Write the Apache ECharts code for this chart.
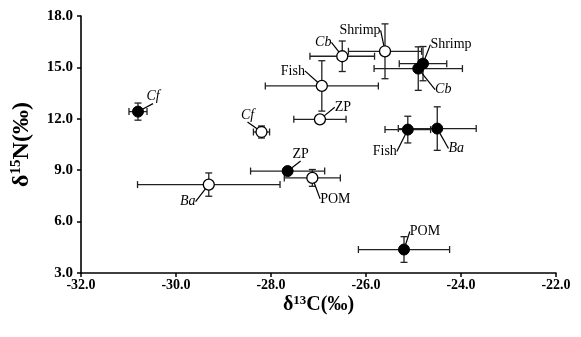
<!DOCTYPE html>
<html>
<head>
<meta charset="utf-8">
<script src="https://cdn.jsdelivr.net/npm/echarts@6/dist/echarts.min.js"></script>
<style>
  html, body { margin: 0; padding: 0; background: #fff; }
  #main { width: 581px; height: 337px; }
</style>
</head>
<body>
<div id="main"></div>
<script>
var chartDom = document.getElementById('main');
var myChart = echarts.init(chartDom);

// filled symbols
var filledNames = ['Cf', 'ZP', 'POM', 'Fish', 'Ba', 'Cb', 'Shrimp'];
var filledC = [-30.80, -27.65, -25.20, -25.12, -24.50, -24.90, -24.80];
var filledN = [12.42, 8.95, 4.37, 11.37, 11.43, 14.93, 15.22];
var filledCErr = [0.19, 0.78, 0.96, 0.48, 0.82, 0.93, 0.50];
var filledNErr = [0.50, 0.15, 0.75, 0.78, 1.27, 1.27, 1.00];

// open symbols
var openNames = ['Cf', 'Ba', 'POM', 'ZP', 'Fish', 'Cb', 'Shrimp'];
var openC = [-28.20, -29.31, -27.13, -26.97, -26.93, -26.50, -25.60];
var openN = [11.23, 8.16, 8.55, 11.97, 13.92, 15.65, 15.94];
var openCErr = [0.17, 1.50, 0.59, 0.55, 1.19, 0.68, 0.77];
var openNErr = [0.35, 0.68, 0.49, 0.15, 1.47, 0.89, 1.60];

// label offsets (px) from the point
var filledOffsets = [[15, -15], [13, -17], [21, -18], [-23, 22], [19, 20], [25, 21], [28, -19]];
var openOffsets = [[-14, -17], [-21, 17], [23, 21], [23, -12], [-29, -15], [-19, -14], [-25, -21]];

var italicNames = ['Cf', 'Cb', 'Ba'];
var serif = '"Liberation Serif", "Times New Roman", serif';

var buildData = function (names, xs, ys, xe, ye) {
  var res = [];
  for (var i = 0; i < names.length; i++) {
    res.push({ name: names[i], value: [xs[i], ys[i], xe[i], ye[i]] });
  }
  return res;
};

var filledData = buildData(filledNames, filledC, filledN, filledCErr, filledNErr);
var openData = buildData(openNames, openC, openN, openCErr, openNErr);

var errorItem = function (params, api) {
  var x = api.value(0), y = api.value(1), xe = api.value(2), ye = api.value(3);
  var l = api.coord([x - xe, y]), r = api.coord([x + xe, y]);
  var t = api.coord([x, y + ye]), b = api.coord([x, y - ye]);
  var c = 3.5;
  var st = { stroke: '#222', lineWidth: 1.3 };
  var seg = function (x1, y1, x2, y2) {
    return { type: 'line', shape: { x1: x1, y1: y1, x2: x2, y2: y2 }, style: st };
  };
  return {
    type: 'group',
    children: [
      seg(l[0], l[1], r[0], r[1]),
      seg(l[0], l[1] - c, l[0], l[1] + c),
      seg(r[0], r[1] - c, r[0], r[1] + c),
      seg(t[0], t[1], b[0], b[1]),
      seg(t[0] - c, t[1], t[0] + c, t[1]),
      seg(b[0] - c, b[1], b[0] + c, b[1])
    ]
  };
};

var labelFmt = function (p) {
  return italicNames.indexOf(p.name) >= 0 ? '{i|' + p.name + '}' : '{n|' + p.name + '}';
};

var labelCfg = {
  show: true,
  position: 'inside',
  formatter: labelFmt,
  rich: {
    i: { fontFamily: serif, fontStyle: 'italic', fontSize: 14, color: '#000' },
    n: { fontFamily: serif, fontSize: 14, color: '#000' }
  }
};

var option = {
  animation: false,
  backgroundColor: '#fff',
  grid: { left: 81, right: 25, top: 16, bottom: 64 },
  xAxis: {
    type: 'value',
    min: -32, max: -22, interval: 2,
    name: '{a|δ}{s|13}{a|C(‰)}',
    nameLocation: 'middle',
    nameMoveOverlap: false,
    nameGap: 21,
    nameTextStyle: {
      verticalAlign: 'top',
      rich: {
        a: { fontFamily: serif, fontWeight: 'bold', fontSize: 20, color: '#000' },
        s: { fontFamily: serif, fontWeight: 'bold', fontSize: 13, color: '#000', verticalAlign: 'bottom', padding: [0, 0, 9, 0] }
      }
    },
    axisLine: { show: true, onZero: false, lineStyle: { color: '#000', width: 1.6 } },
    axisTick: { show: true, length: 4, lineStyle: { color: '#000', width: 1.5 } },
    axisLabel: {
      margin: 5,
      fontFamily: serif, fontWeight: 'bold', fontSize: 14, color: '#000',
      formatter: function (v) { return v.toFixed(1); }
    },
    splitLine: { show: false }
  },
  yAxis: {
    type: 'value',
    min: 3, max: 18, interval: 3,
    name: '{a|δ}{s|15}{a|N(‰)}',
    nameLocation: 'middle',
    nameMoveOverlap: false,
    nameRotate: 90,
    nameGap: 47,
    nameTextStyle: {
      rich: {
        a: { fontFamily: serif, fontWeight: 'bold', fontSize: 24, color: '#000' },
        s: { fontFamily: serif, fontWeight: 'bold', fontSize: 15, color: '#000', verticalAlign: 'bottom', padding: [0, 0, 10, 0] }
      }
    },
    axisLine: { show: true, onZero: false, lineStyle: { color: '#000', width: 1.6 } },
    axisTick: { show: true, length: 4, lineStyle: { color: '#000', width: 1.5 } },
    axisLabel: {
      margin: 8,
      fontFamily: serif, fontWeight: 'bold', fontSize: 15, color: '#000',
      formatter: function (v) { return v.toFixed(1); }
    },
    splitLine: { show: false }
  },
  series: [
    {
      type: 'custom',
      renderItem: errorItem,
      encode: { x: 0, y: 1 },
      data: openData,
      z: 1
    },
    {
      type: 'custom',
      renderItem: errorItem,
      encode: { x: 0, y: 1 },
      data: filledData,
      z: 1
    },
    {
      name: 'open',
      type: 'scatter',
      symbol: 'circle',
      symbolSize: 11,
      itemStyle: { color: '#fff', borderColor: '#000', borderWidth: 1.3, opacity: 1 },
      label: labelCfg,
      labelLine: { show: true, lineStyle: { color: '#000', width: 1.2 } },
      labelLayout: function (p) {
        var o = openOffsets[p.dataIndex];
        return { dx: o[0], dy: o[1] };
      },
      data: openData,
      z: 3
    },
    {
      name: 'filled',
      type: 'scatter',
      symbol: 'circle',
      symbolSize: 11,
      itemStyle: { color: '#000', borderColor: '#000', borderWidth: 1, opacity: 1 },
      label: labelCfg,
      labelLine: { show: true, lineStyle: { color: '#000', width: 1.2 } },
      labelLayout: function (p) {
        var o = filledOffsets[p.dataIndex];
        return { dx: o[0], dy: o[1] };
      },
      data: filledData,
      z: 4
    }
  ]
};

option && myChart.setOption(option);
</script>
</body>
</html>
